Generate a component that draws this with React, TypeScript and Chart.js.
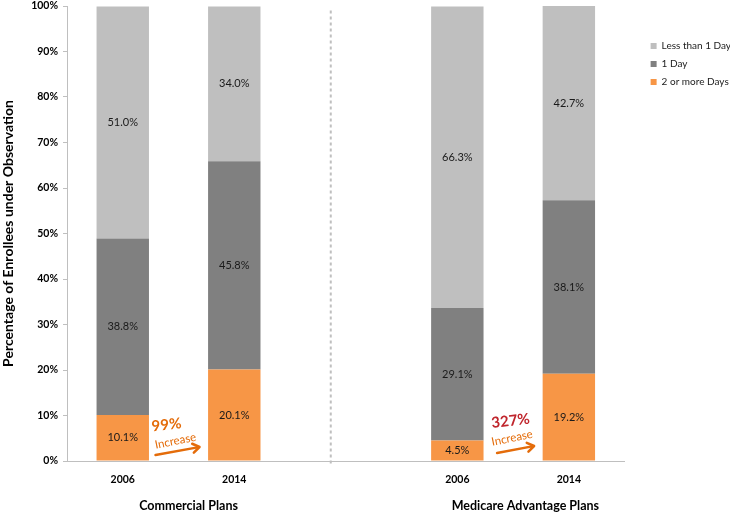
import React, { useEffect, useRef } from "react";
import { Chart, registerables } from "chart.js";
Chart.register(...registerables);

const categories = ["2006", "2014", "", "2006", "2014"];
const twoOrMore = [10.1, 20.1, null, 4.5, 19.2];
const oneDay = [38.8, 45.8, null, 29.1, 38.1];
const lessThanOne = [51.0, 34.0, null, 66.3, 42.7];
const groupLabels = ["Commercial Plans", "Medicare Advantage Plans"];
const increaseLabels = ["99%", "327%"];

const FONT = "Lato, 'Open Sans', sans-serif";

const overlayPlugin = {
  id: "overlay",
  afterLayout(chart: any) {
    const lg = chart.legend;
    if (lg) {
      lg.left += 18;
      lg.right += 18;
      lg.top += 27;
      lg.bottom += 27;
    }
  },
  afterDatasetsDraw(chart: any) {
    const ctx = chart.ctx;
    const xs = chart.scales.x;
    const ys = chart.scales.y;
    ctx.save();
    // value labels
    ctx.font = `11px ${FONT}`;
    ctx.fillStyle = "#1a1a1a";
    ctx.textAlign = "center";
    ctx.textBaseline = "middle";
    chart.data.datasets.forEach((ds: any, di: number) => {
      const meta = chart.getDatasetMeta(di);
      meta.data.forEach((bar: any, i: number) => {
        const v = ds.data[i];
        if (v == null) return;
        const cy = (bar.y + bar.base) / 2;
        ctx.fillText(v.toFixed(1) + "%", bar.x, cy);
      });
    });
    // dashed separator
    const sx = xs.getPixelForValue(1.865);
    ctx.strokeStyle = "#bfbfbf";
    ctx.lineWidth = 2;
    ctx.setLineDash([3, 3]);
    ctx.beginPath();
    ctx.moveTo(sx, ys.getPixelForValue(99));
    ctx.lineTo(sx, ys.getPixelForValue(0) + 4);
    ctx.stroke();
    ctx.setLineDash([]);
    // group labels
    ctx.font = `bold 12.5px ${FONT}`;
    ctx.fillStyle = "#000";
    const gy = ys.getPixelForValue(0) + 45;
    ctx.fillText(groupLabels[0], xs.getPixelForValue(0.59), gy);
    ctx.fillText(groupLabels[1], xs.getPixelForValue(3.61), gy);
    // increase annotations
    const base = ys.getPixelForValue(0);
    const anns = [
      { x: 0.5, color: "#E46C0A", label: increaseLabels[0], px: -12, py: -36, ix: -3, iy: -20, ax1: -23, ay1: -6, ax2: 21, ay2: -14 },
      { x: 3.5, color: "#C0262D", label: increaseLabels[1], px: -2.5, py: -40, ix: -1, iy: -23, ax1: -16, ay1: -8, ax2: 21, ay2: -15 },
    ];
    anns.forEach((a) => {
      const cx = xs.getPixelForValue(a.x);
      ctx.save();
      ctx.translate(cx + a.px, base + a.py);
      ctx.rotate(-0.12);
      ctx.font = `bold 15px ${FONT}`;
      ctx.fillStyle = a.color;
      ctx.textAlign = "center";
      ctx.fillText(a.label, 0, 0);
      ctx.restore();
      // "Increase" rotated
      ctx.save();
      ctx.translate(cx + a.ix, base + a.iy);
      ctx.rotate(-0.2);
      ctx.font = `11.5px ${FONT}`;
      ctx.fillStyle = "#E46C0A";
      ctx.textAlign = "center";
      ctx.fillText("Increase", 0, 0);
      ctx.restore();
      // arrow
      const x1 = cx + a.ax1, y1 = base + a.ay1, x2 = cx + a.ax2, y2 = base + a.ay2;
      const ang = Math.atan2(y2 - y1, x2 - x1);
      ctx.strokeStyle = "#E46C0A";
      ctx.fillStyle = "#E46C0A";
      ctx.lineWidth = 2.5;
      ctx.lineCap = "round";
      ctx.beginPath();
      ctx.moveTo(x1, y1);
      ctx.lineTo(x2 - 2 * Math.cos(ang), y2 - 2 * Math.sin(ang));
      ctx.stroke();
      ctx.lineWidth = 2.5;
      ctx.lineJoin = "round";
      ctx.beginPath();
      ctx.moveTo(x2 - 8 * Math.cos(ang - 0.6), y2 - 8 * Math.sin(ang - 0.6));
      ctx.lineTo(x2, y2);
      ctx.lineTo(x2 - 8 * Math.cos(ang + 0.6), y2 - 8 * Math.sin(ang + 0.6));
      ctx.stroke();
    });
    ctx.restore();
  },
};

export default function App() {
  const ref = useRef<HTMLCanvasElement>(null);
  useEffect(() => {
    if (!ref.current) return;
    const chart = new Chart(ref.current, {
      type: "bar",
      data: {
        labels: categories,
        datasets: [
          { label: "2 or more Days", data: twoOrMore, backgroundColor: "#F79646" },
          { label: "1 Day", data: oneDay, backgroundColor: "#808080" },
          { label: "Less than 1 Day", data: lessThanOne, backgroundColor: "#BFBFBF" },
        ],
      },
      options: {
        animation: false,
        responsive: false,
        maintainAspectRatio: false,
        layout: { padding: { top: 6, right: 7, left: 0, bottom: 0 } },
        datasets: { bar: { categoryPercentage: 1, barPercentage: 0.47 } },
        plugins: {
          legend: {
            position: "right",
            align: "start",
            reverse: true,
            labels: {
              boxWidth: 6,
              boxHeight: 6,
              padding: 8,
              font: { family: FONT, size: 10 },
              color: "#222",
            },
          },
          tooltip: { enabled: false },
        },
        scales: {
          x: {
            stacked: true,
            grid: { display: false },
            border: { display: true, color: "#bfbfbf" },
            ticks: { font: { family: FONT, size: 10.5, weight: "bold" }, color: "#000", padding: 4 },
            afterFit: (s: any) => { s.height = 55; },
          },
          y: {
            stacked: true,
            min: 0,
            max: 100,
            grid: { display: true, drawOnChartArea: false, drawTicks: true, tickLength: 4, color: "#bfbfbf" },
            border: { display: true, color: "#bfbfbf" },
            ticks: {
              stepSize: 10,
              font: { family: FONT, size: 10.5, weight: "bold" },
              color: "#000",
              padding: 5,
              callback: (v: any) => v + "%",
            },
            title: {
              display: true,
              text: "Percentage of Enrollees under Observation",
              font: { family: FONT, size: 14, weight: "bold" },
              color: "#000",
              padding: { top: 0, bottom: 0 },
            },
            afterFit: (s: any) => { s.width = 67; s.paddingTop = 0; },
          },
        },
      },
      plugins: [overlayPlugin],
    });
    return () => chart.destroy();
  }, []);
  return (
    <div style={{ position: "fixed", left: 0, top: 0, width: 730, height: 516, background: "#fff" }}>
      <canvas ref={ref} width={730} height={516} style={{ width: 730, height: 516 }} />
    </div>
  );
}
